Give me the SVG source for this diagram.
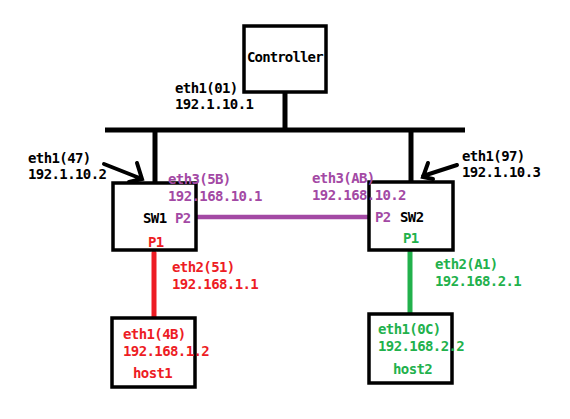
<svg xmlns="http://www.w3.org/2000/svg" width="570" height="419" viewBox="0 0 570 419">
<style>
text{font-family:"DejaVu Sans Mono","Liberation Mono",monospace;font-size:14px;letter-spacing:-0.6px;font-weight:bold;fill:#000}
.box{fill:#fff;stroke:#000;stroke-width:3.5}
.pu{fill:#A349A4}.rd{fill:#ED1C24}.gr{fill:#22B14C}
.blk{stroke:#000;stroke-width:5;fill:none}
.arr{stroke:#000;stroke-width:4;fill:none;stroke-linecap:round}
</style>
<rect width="570" height="419" fill="#fff"/>
<g id="connectors">
<line class="blk" x1="285" y1="92" x2="285" y2="130"/>
<line class="blk" x1="105" y1="130" x2="465" y2="130"/>
<line class="blk" x1="155" y1="130" x2="155" y2="183"/>
<line class="blk" x1="411" y1="130" x2="411" y2="182"/>
<line x1="196" y1="217" x2="369" y2="217" stroke="#A349A4" stroke-width="4.5"/>
<line x1="154" y1="253" x2="154" y2="317" stroke="#ED1C24" stroke-width="5" stroke-linecap="round"/>
<line x1="410" y1="252" x2="410" y2="313" stroke="#22B14C" stroke-width="5" stroke-linecap="round"/>
<path class="arr" d="M104 164 L142 179 M137 163 L142 179 L129 182"/>
<path class="arr" d="M457 165 L423 176 M428 163 L423 177 L433 179"/>
</g>
<g id="controller">
<rect class="box" x="244" y="26" width="82" height="66"/>
<text x="247" y="62" textLength="76">Controller</text>
<text x="175" y="93">eth1(01)</text>
<text x="175" y="109">192.1.10.1</text>
</g>
<g id="sw1">
<rect class="box" x="113" y="183" width="83" height="67"/>
<text x="143" y="223">SW1</text>
<text class="pu" x="175" y="223">P2</text>
<text class="rd" x="148" y="247">P1</text>
<text x="28" y="163">eth1(47)</text>
<text x="28" y="179">192.1.10.2</text>
<text class="pu" x="168" y="184">eth3(5B)</text>
<text class="pu" x="168" y="201">192.168.10.1</text>
<text class="rd" x="172" y="272">eth2(51)</text>
<text class="rd" x="172" y="289">192.168.1.1</text>
</g>
<g id="sw2">
<rect class="box" x="369" y="182" width="84" height="68"/>
<text class="pu" x="375" y="222">P2</text>
<text x="400" y="222">SW2</text>
<text class="gr" x="403" y="243">P1</text>
<text x="462" y="161">eth1(97)</text>
<text x="462" y="177">192.1.10.3</text>
<text class="pu" x="312" y="183">eth3(AB)</text>
<text class="pu" x="312" y="200">192.168.10.2</text>
<text class="gr" x="435" y="269">eth2(A1)</text>
<text class="gr" x="435" y="286">192.168.2.1</text>
</g>
<g id="host1">
<rect class="box" x="112" y="318" width="83" height="69"/>
<text class="rd" x="123" y="339">eth1(4B)</text>
<text class="rd" x="123" y="356">192.168.1.2</text>
<text class="rd" x="133" y="378">host1</text>
</g>
<g id="host2">
<rect class="box" x="369" y="314" width="83" height="69"/>
<text class="gr" x="378" y="334">eth1(0C)</text>
<text class="gr" x="378" y="351">192.168.2.2</text>
<text class="gr" x="393" y="374">host2</text>
</g>
</svg>
